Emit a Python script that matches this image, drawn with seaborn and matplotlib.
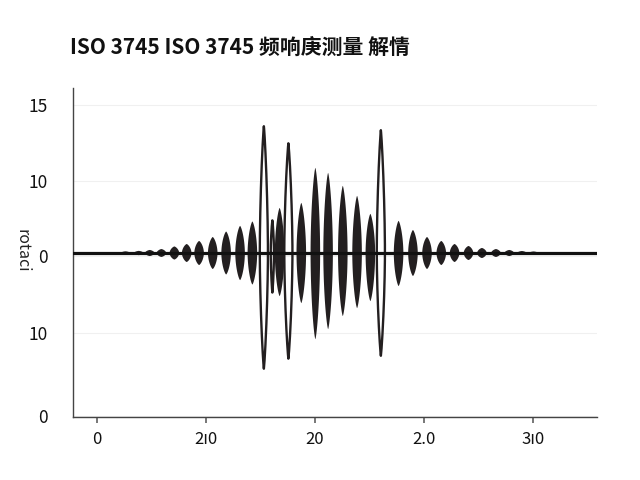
import numpy as np
import pandas as pd
import matplotlib
matplotlib.use("Agg")
import matplotlib.pyplot as plt
import seaborn as sns

# ---- data ----
title_text = "ISO 3745 ISO 3745 频响庚测量 解情"
y_label = "rotaci"
x_tick_pos = [0, 10, 20, 30, 40]
x_tick_labels = ["0", "2ı0", "20", "2.0", "3ı0"]
y_tick_pos = [9.7, 4.7, -0.25, -5.3, -10.75]
y_tick_labels = ["15", "10", "0", "10", "0"]

# filled lobes: centre, upper amplitude, lower amplitude
lobe_x = [2.57, 3.79, 4.80, 5.87, 7.06, 8.19, 9.33, 10.58, 11.81, 13.09, 14.22,
          16.72, 18.71, 20.0, 21.17, 22.52, 23.83, 25.05, 27.64, 28.96, 30.25,
          31.56, 32.78, 34.06, 35.29, 36.58, 37.80, 38.96, 40.03]
lobe_up = [0.11, 0.14, 0.20, 0.26, 0.43, 0.59, 0.79, 1.05, 1.41, 1.78, 2.07,
           2.96, 3.29, 5.59, 5.26, 4.41, 3.75, 2.57, 2.11, 1.51, 1.05,
           0.79, 0.59, 0.46, 0.33, 0.26, 0.20, 0.13, 0.10]
lobe_down = [0.11, 0.14, 0.20, 0.26, 0.43, 0.59, 0.79, 1.05, 1.41, 1.78, 2.07,
             2.83, 3.29, 5.66, 5.00, 4.14, 3.62, 3.16, 2.17, 1.51, 1.05,
             0.79, 0.59, 0.46, 0.33, 0.26, 0.20, 0.13, 0.10]

# outlined (unfilled) spikes: centre, upper amplitude, lower amplitude
spike_x = [15.32, 16.10, 17.57, 26.06]
spike_up = [8.29, 2.11, 7.17, 8.03]
spike_down = [7.63, 2.63, 6.97, 6.78]

# ---- styling ----
sns.set_theme(style="whitegrid")
plt.rcParams["font.family"] = ["Noto Sans CJK SC", "DejaVu Sans"]

ink = "#231f20"
fig = plt.figure(figsize=(6.4, 4.8), dpi=100)
ax = fig.add_axes([73 / 640, 63 / 480, 524 / 640, 329 / 480])

def lobe(c, up, down, w, p, q, n=301):
    th = np.linspace(0, np.pi, n)
    t = -np.cos(th)
    x = c + t * w / 2
    prof = np.clip(1 - np.abs(t) ** p, 0, None) ** q
    return x, up * prof, -down * prof

for c, u, d in zip(lobe_x, lobe_up, lobe_down):
    x, yu, yd = lobe(c, u, d, 0.88, 1.4, 0.55)
    ax.fill_between(x, yd, yu, color=ink, lw=0, zorder=3)

spike_w = [0.75, 0.3, 0.75, 0.75]
for c, u, d, w in zip(spike_x, spike_up, spike_down, spike_w):
    x, yu, yd = lobe(c, u, d, w, 1.2, 0.6)
    df = pd.DataFrame({"x": np.r_[x, x[::-1]], "y": np.r_[yu, yd[::-1]]})
    sns.lineplot(data=df, x="x", y="y", sort=False, estimator=None,
                 color=ink, lw=1.7, ax=ax, zorder=4)

xlim = (-2.2, 45.9)
base = pd.DataFrame({"x": list(xlim), "y": [0, 0]})
sns.lineplot(data=base, x="x", y="y", color="#111111", lw=2.3, ax=ax, zorder=5)

ax.set_xlim(*xlim)
ax.set_ylim(-10.8, 10.8)
ax.set_xticks(x_tick_pos)
ax.set_xticklabels(x_tick_labels, fontsize=12)
ax.set_yticks(y_tick_pos)
ax.set_yticklabels(y_tick_labels, fontsize=12.5)
ax.set_xlabel("")
ax.set_ylabel("")
ax.grid(axis="x", visible=False)
ax.grid(axis="y", color="#f0f0f0", lw=0.8)
for s in ["top", "right"]:
    ax.spines[s].set_visible(False)
for s in ["left", "bottom"]:
    ax.spines[s].set_color("#444444")
    ax.spines[s].set_linewidth(1.0)
ax.tick_params(axis="x", bottom=True, length=4, color="#666666", pad=6)
ax.tick_params(axis="y", left=False, pad=12)
for lbl in ax.get_xticklabels() + ax.get_yticklabels():
    lbl.set_color("#111111")

fig.text(22 / 640, 1 - 251 / 480, y_label, rotation=270, fontsize=11.5,
         ha="center", va="center", color="#222222")
fig.text(70 / 640, 1 - 47 / 480, title_text, fontsize=15, fontweight="bold",
         ha="left", va="center", color="#111111")

fig.savefig("out.png", dpi=100, facecolor="white")
